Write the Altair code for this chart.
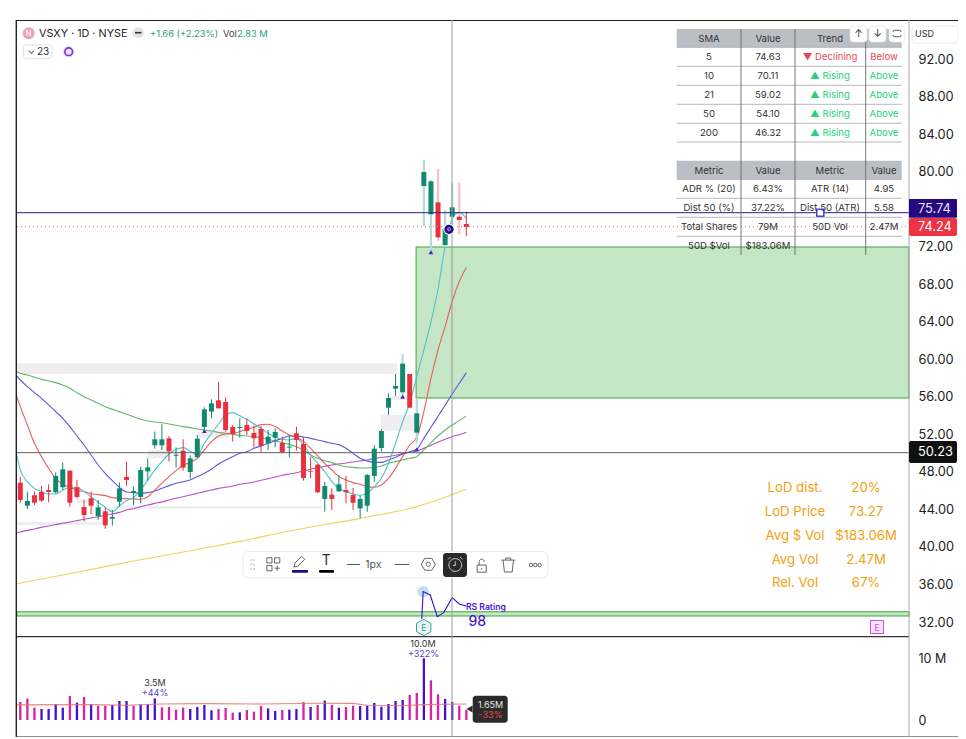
import altair as alt
import pandas as pd

FONT = "Inter"

# ---------- candles ----------
candle_side = "rgrrrggrrr" "rgrggrgggg" "grgrggggrr" "rgrrrggrgr" "rrrgrgrrgg" "gggggrgggr" "ggrr"
candle_high = [47.50,45.90,45.90,46.50,46.68,47.96,49.02,48.14,47.14,45.01,
               45.90,45.01,44.23,43.94,46.89,49.10,46.43,48.56,49.45,52.29,
               53.08,51.83,50.62,51.48,49.77,51.94,54.89,55.74,57.62,55.95,
               53.00,53.72,53.72,52.90,52.90,52.47,52.65,51.76,51.94,52.83,
               51.69,49.63,48.81,46.96,46.25,47.67,47.57,46.32,45.47,47.78,
               50.87,52.54,56.38,58.44,60.57,58.44,55.85,81.25,79.12,80.29,
               75.92,78.77,78.84,75.75]
candle_top = [46.86,44.90,45.51,45.86,46.07,47.57,48.28,48.14,46.36,44.26,
              45.19,44.23,43.80,43.20,46.25,47.46,45.97,48.21,48.49,51.48,
              51.48,51.58,49.84,50.27,49.45,51.55,54.67,55.31,55.63,55.46,
              52.79,52.79,53.00,52.15,52.58,51.76,52.26,51.09,50.69,52.12,
              50.98,48.10,48.78,46.50,45.58,46.68,46.07,45.54,45.12,47.67,
              50.48,52.36,55.88,57.16,59.54,58.44,54.25,79.97,78.98,76.74,
              73.97,76.21,75.21,74.43]
candle_bottom = [45.01,44.40,44.72,44.94,45.86,45.83,46.36,44.72,45.33,43.41,
                 44.40,43.30,42.31,43.02,44.83,47.14,45.79,45.33,48.06,50.84,
                 50.84,50.20,49.73,48.46,47.99,49.56,52.79,54.43,54.78,52.47,
                 52.04,52.68,52.36,51.58,50.77,51.05,51.65,50.13,50.59,51.41,
                 47.35,48.03,45.83,45.12,45.12,45.93,45.83,44.72,44.12,44.40,
                 47.57,50.55,54.85,56.88,56.49,54.85,52.19,78.48,75.46,73.01,
                 72.19,75.21,74.86,74.11]
candle_low = [44.72,44.01,44.48,44.83,44.76,45.72,46.07,44.30,45.19,42.70,
              43.52,42.88,41.92,42.27,44.30,46.50,44.48,44.65,47.07,50.48,
              50.34,49.10,48.46,48.14,47.28,49.52,52.54,53.72,54.78,52.29,
              51.23,51.65,51.94,50.59,50.09,50.34,50.62,49.98,49.56,50.27,
              47.07,47.32,45.72,43.76,43.94,45.90,44.65,43.94,43.05,43.76,
              46.96,50.16,54.07,56.10,56.02,54.78,51.05,74.22,71.30,72.65,
              72.01,74.15,73.33,73.15]

# ---------- moving averages (first value sits one bar before the first candle) ----------
ma_cyan = [51.76,48.21,46.96,46.25,45.90,45.65,45.65,46.07,46.36,46.36,45.90,45.36,44.76,44.23,43.76,
           44.37,44.94,45.29,46.07,47.14,48.21,49.10,49.91,50.41,50.59,50.23,49.81,51.05,52.12,53.11,
           54.07,54.32,54.00,53.61,53.11,52.65,52.12,51.69,51.48,51.41,51.58,50.87,49.81,48.92,48.03,
           46.96,46.25,45.90,45.65,45.51,45.72,46.43,47.32,48.92,51.05,53.36,55.31,58.16,61.0,64.0,
           67.5,72.0,75.0,75.7,75.0]
ma_red = [57.09,54.96,53.00,51.05,49.63,48.38,47.32,46.68,46.36,46.07,45.90,45.68,45.58,45.47,45.26,
          45.19,45.15,45.12,45.08,45.36,46.07,46.79,47.50,48.14,48.74,48.99,49.45,50.34,51.23,51.83,
          52.04,52.12,52.29,52.54,52.76,53.04,53.08,52.83,52.36,51.94,51.69,51.23,50.52,49.70,48.92,
          48.21,47.50,47.14,46.86,46.68,46.43,46.36,46.61,47.32,48.38,49.63,50.87,51.69,54.43,57.98,
          61.0,63.5,66.2,68.3,69.8]
ma_blue = [58.65,57.80,57.09,56.45,55.85,55.14,54.43,53.72,52.83,51.83,50.87,49.81,48.74,47.85,47.07,
           46.36,45.86,45.79,45.72,45.79,45.97,46.25,46.54,46.79,46.96,47.14,47.50,47.85,48.28,48.85,
           49.27,49.63,49.98,50.16,50.52,50.77,51.05,51.33,51.58,51.83,51.83,51.72,51.58,51.41,51.23,
           51.05,50.91,50.52,49.98,49.45,49.17,49.02,49.02,49.27,49.56,49.91,50.16,50.41,51.58,52.76,
           53.93,55.10,56.31,57.45,58.58]
ma_green = [58.87,58.51,58.33,58.09,57.87,57.70,57.52,57.27,56.91,56.45,56.02,55.67,55.31,54.96,54.67,
            54.43,54.14,53.89,53.61,53.43,53.32,53.25,53.11,52.97,52.83,52.72,52.58,52.47,52.36,52.22,
            52.12,52.01,51.90,51.83,51.76,51.65,51.48,51.30,51.12,50.94,50.69,50.34,49.81,49.45,49.20,
            48.99,48.74,48.56,48.49,48.42,48.42,48.49,48.63,48.92,49.10,49.27,49.45,49.63,50.34,51.12,
            51.83,52.47,53.00,53.47,53.96]
ma_purple = [41.45,41.60,41.77,41.92,42.09,42.24,42.38,42.52,42.66,42.81,42.95,43.09,43.23,43.37,43.52,
             43.69,43.94,44.08,44.30,44.48,44.65,44.80,45.01,45.19,45.36,45.54,45.72,45.90,46.07,46.25,
             46.36,46.50,46.68,46.79,46.93,47.11,47.28,47.46,47.64,47.78,47.92,48.10,48.28,48.46,48.60,
             48.74,48.85,48.95,49.06,49.17,49.27,49.42,49.56,49.63,49.77,49.95,50.09,50.23,50.52,50.84,
             51.16,51.48,51.76,51.97,52.22]
ma_yellow_bar = [-1, 8, 16, 24, 31, 38, 48, 56, 60, 63]
ma_yellow = [36.0, 37.3, 38.5, 39.6, 40.6, 41.7, 43.05, 44.3, 45.3, 46.15]

# ---------- volume (millions) ----------
volume_side = "pppbbbbpbp" "bppbbbpbbb" "ppppbbbbpp" "pbpppbbpbb" "pbpbpbppbb" "bbbbbppbpp" "bbpp"
volume = [2.92,3.46,2.00,1.78,1.78,2.59,2.00,3.89,2.81,3.73,
          2.59,2.32,2.32,2.43,3.08,3.08,2.32,2.54,2.59,3.50,
          2.05,2.11,1.68,2.00,1.78,2.11,2.43,1.57,1.78,1.95,
          1.19,1.24,1.62,1.35,2.27,1.89,1.46,1.62,1.68,1.78,
          2.92,2.11,2.43,3.14,2.43,2.00,2.11,2.32,2.27,2.32,
          2.76,2.16,2.59,3.08,3.24,4.05,4.38,10.0,6.43,4.16,
          3.41,2.92,2.32,1.65]
vol_ma_bar = [-1, 10, 15, 20, 26, 34, 42, 47, 49, 54, 57, 60, 63]
vol_ma = [2.45, 2.5, 2.4, 2.6, 2.65, 2.6, 2.72, 2.7, 2.38, 2.3, 2.5, 2.55, 2.6]

# ---------- other chart drawings ----------
grey_zones = [(-0.47, 53.2, 59.56, 58.44), (-0.47, 11.7, 42.66, 42.34), (8, 10, 45.08, 44.72),
              (13, 42.6, 44.37, 44.08), (18, 21, 50.34, 49.45), (25, 29.5, 52.29, 51.65),
              (50.9, 56, 54.07, 52.40), (52, 55.3, 56.10, 55.67)]
green_zone = (55.9, 125.52, 71.98, 55.88)
green_band = (-0.47, 125.52, 33.1, 32.64)
up_marks = [(26, 52.36), (54, 56.03), (56, 50.41), (58, 71.41)]
rs_bar = [56.7, 56.9, 57.9, 58.9, 59.8, 61.0, 62.0, 63.0]
rs_line = [32.32, 35.24, 34.88, 32.57, 33.0, 34.6, 33.92, 33.7]

# ---------- table text ----------
sma_rows = [("5", "74.63", "▼ Declining", "Below"), ("10", "70.11", "▲ Rising", "Above"),
            ("21", "59.02", "▲ Rising", "Above"), ("50", "54.10", "▲ Rising", "Above"),
            ("200", "46.32", "▲ Rising", "Above")]
metric_rows = [("ADR % (20)", "6.43%", "ATR (14)", "4.95"), ("Dist 50 (%)", "37.22%", "Dist 50 (ATR)", "5.58"),
               ("Total Shares", "79M", "50D Vol", "2.47M"), ("50D $Vol", "$183.06M", "", "")]
info_rows = [("LoD dist.", "20%"), ("LoD Price", "73.27"), ("Avg $ Vol", "$183.06M"),
             ("Avg Vol", "2.47M"), ("Rel. Vol", "67%")]
price_ticks = [92, 88, 84, 80, 72, 68, 64, 60, 56, 52, 48, 44, 40, 36, 32]

# ---------- scales ----------
XS = alt.Scale(domain=[-0.466, 125.52], nice=False, zero=False, padding=0)
PS = alt.Scale(domain=[19.74, 96.18], nice=False, zero=False, padding=0)
VS = alt.Scale(domain=[-2.755, 113.45], nice=False, zero=False, padding=0)
X0, Y0 = 17, 20
GREEN, RED = "#12896f", "#e8303f"
INDIGO = "#4a14d0"


def bx(f="i"):
    return alt.X(f"{f}:Q", scale=XS, axis=None, title=None)


def py(f="p", scale=PS):
    return alt.Y(f"{f}:Q", scale=scale, axis=None, title=None)


def pxx(f="x"):
    return alt.X(f"{f}:Q", scale=None, axis=None, title=None)


def pxy(f="y"):
    return alt.Y(f"{f}:Q", scale=None, axis=None, title=None)


def text_layer(rows, align="center", weight="normal"):
    df = pd.DataFrame(rows, columns=["t", "x", "y", "s", "c"])
    df["x"] -= X0
    df["y"] -= Y0
    return alt.Chart(df).mark_text(align=align, baseline="middle", font=FONT, fontWeight=weight).encode(
        x=pxx(), y=pxy(), text="t:N",
        size=alt.Size("s:Q", scale=None, legend=None),
        color=alt.Color("c:N", scale=None, legend=None))


def rect_layer(rows, **kw):
    df = pd.DataFrame(rows, columns=["x", "x2", "y", "y2", "c"])
    df[["x", "x2"]] -= X0
    df[["y", "y2"]] -= Y0
    return alt.Chart(df).mark_rect(**kw).encode(
        x=pxx(), x2="x2:Q", y=pxy(), y2="y2:Q",
        color=alt.Color("c:N", scale=None, legend=None))


def hlines(rows, **kw):
    df = pd.DataFrame(rows, columns=["x", "x2", "y", "c"])
    df[["x", "x2"]] -= X0
    df["y"] -= Y0
    return alt.Chart(df).mark_rule(**kw).encode(
        x=pxx(), x2="x2:Q", y=pxy(), color=alt.Color("c:N", scale=None, legend=None))


def vlines(rows, **kw):
    df = pd.DataFrame(rows, columns=["x", "y", "y2", "c"])
    df["x"] -= X0
    df[["y", "y2"]] -= Y0
    return alt.Chart(df).mark_rule(**kw).encode(
        x=pxx(), y=pxy(), y2="y2:Q", color=alt.Color("c:N", scale=None, legend=None))


def icons(rows, filled=False, **kw):
    df = pd.DataFrame(rows, columns=["x", "y", "size", "c", "shape"])
    df["x"] -= X0
    df["y"] -= Y0
    return alt.Chart(df).mark_point(filled=filled, opacity=1, **kw).encode(
        x=pxx(), y=pxy(),
        size=alt.Size("size:Q", scale=None, legend=None),
        color=alt.Color("c:N", scale=None, legend=None),
        shape=alt.Shape("shape:N", scale=None, legend=None))


layers = []

# price zones
gz = pd.DataFrame(grey_zones, columns=["i", "i2", "p", "p2"])
layers.append(alt.Chart(gz).mark_rect(color="#eeeef0").encode(x=bx(), x2="i2:Q", y=py(), y2="p2:Q"))
gzone = pd.DataFrame([green_zone], columns=["i", "i2", "p", "p2"])
layers.append(alt.Chart(gzone).mark_rect(color="#c5e6c5", stroke="#3fa33f", strokeWidth=1).encode(
    x=bx(), x2="i2:Q",
    y=alt.Y("p:Q", scale=PS, title=None, axis=alt.Axis(
        orient="right", values=price_ticks, format=".2f", grid=False, ticks=False, domain=False,
        labelFontSize=12.8, labelFont=FONT, labelColor="#222", labelPadding=9, labelAlign="left")),
    y2="p2:Q"))
gband = pd.DataFrame([green_band], columns=["i", "i2", "p", "p2"])
layers.append(alt.Chart(gband).mark_rect(color="#c5e6c5", stroke="#3fa33f", strokeWidth=1.1).encode(
    x=bx(), x2="i2:Q", y=py(), y2="p2:Q"))

# moving averages
bars_all = list(range(-1, 64))
for vals, col in [(ma_yellow, "#efd25e"), (ma_purple, "#b352c9"), (ma_green, "#66b46c"),
                  (ma_blue, "#5b57df"), (ma_red, "#e8605c"), (ma_cyan, "#4fc4c8")]:
    idx = ma_yellow_bar if vals is ma_yellow else bars_all
    d = pd.DataFrame({"i": idx, "p": vals})
    layers.append(alt.Chart(d).mark_line(color=col, strokeWidth=1.1, clip=True, interpolate="monotone").encode(
        x=bx(), y=py()))

# candles
c = pd.DataFrame({"i": range(64), "h": candle_high, "l": candle_low, "t": candle_top, "b": candle_bottom,
                  "s": list(candle_side)})
c["body"] = c["s"].map({"g": GREEN, "r": RED})
pale = c["i"].between(54, 62)
c["wick"] = c["body"]
c.loc[pale & (c["s"] == "g"), "wick"] = "#b4dcd2"
c.loc[pale & (c["s"] == "r"), "wick"] = "#f6c0c6"
cthin, cpale = c[~pale], c[pale]
layers.append(alt.Chart(cthin).mark_rule(strokeWidth=1).encode(
    x=bx(), y=py("h"), y2="l:Q", color=alt.Color("wick:N", scale=None, legend=None)))
layers.append(alt.Chart(cpale).mark_rule(strokeWidth=2.2).encode(
    x=bx(), y=py("h"), y2="l:Q", color=alt.Color("wick:N", scale=None, legend=None)))
layers.append(alt.Chart(c).mark_bar(size=5).encode(
    x=bx(), y=py("t"), y2="b:Q", color=alt.Color("body:N", scale=None, legend=None)))

# price lines
layers.append(hlines([(17, 909, 212.7, "#2a1a8c")], strokeWidth=1))
layers.append(hlines([(17, 909, 226.7, "#e06a6a")], strokeWidth=1, strokeDash=[1, 3]))
layers.append(hlines([(17, 909, 452.7, "#5f5f5f")], strokeWidth=1))

# triangles and markers
um = pd.DataFrame(up_marks, columns=["i", "p"])
layers.append(alt.Chart(um).mark_point(shape="triangle-up", filled=True, size=22, color="#3b2ad6", opacity=1).encode(
    x=bx(), y=py()))

# RS rating sparkline
rs = pd.DataFrame({"i": rs_bar, "p": rs_line})
layers.append(alt.Chart(rs.iloc[[1]]).mark_point(filled=True, size=130, color="#c2dff2", opacity=1).encode(x=bx(), y=py()))
layers.append(alt.Chart(rs).mark_line(color="#3a10d8", strokeWidth=1.1).encode(x=bx(), y=py()))

# volume
v = pd.DataFrame({"i": range(64), "v": volume, "s": list(volume_side)})
v["c"] = v["s"].map({"b": "#4512cc", "p": "#d9229f"})
layers.append(alt.Chart(v).mark_bar(size=2.3).encode(
    x=bx(),
    y=alt.Y("v:Q", scale=VS, title=None, axis=alt.Axis(
        orient="right", values=[0, 10], labelExpr="datum.value == 10 ? '10 M' : '0'", grid=False, ticks=False,
        domain=False, labelFontSize=12.5, labelFont=FONT, labelColor="#222", labelPadding=9, labelAlign="left")),
    y2=alt.Y2(datum=0),
    color=alt.Color("c:N", scale=None, legend=None)))
vm = pd.DataFrame({"i": vol_ma_bar, "v": vol_ma})
layers.append(alt.Chart(vm).mark_line(color="#e8706c", strokeWidth=1.1, clip=True, opacity=0.85).encode(
    x=bx(), y=py("v", VS)))

# frame and crosshair
layers.append(hlines([(16, 958, 20.5, "#222222"), (16, 909, 636.7, "#333333"), (16, 958, 737, "#222222")], strokeWidth=1.2))
layers.append(vlines([(16.3, 20, 737, "#222222")], strokeWidth=1.4))
layers.append(vlines([(909, 20, 737, "#a8a8a8")], strokeWidth=1))
layers.append(vlines([(452, 20, 737, "#9a9a9a")], strokeWidth=1.4, opacity=0.7))

# alarm marker on the chart
layers.append(icons([(449, 229.3, 130, "#ffffff", "circle")], filled=True))
layers.append(icons([(449, 229.3, 85, "#1f0a8a", "circle")], filled=True))
layers.append(icons([(449, 229.3, 16, "#cfc8f5",
                      "M.8,0 A.8,.8 0 1,1 -.8,0 A.8,.8 0 1,1 .8,0 M0,-.4 V.1 H-.3")], strokeWidth=0.8))
layers.append(icons([(820.3, 212.7, 50, "#4030d8", "square")], filled=False, strokeWidth=1.4, fill="#ffffff"))

# table backgrounds and rules
layers.append(rect_layer([(676.7, 901.7, 29, 47.3, "#bcbec5"), (676.7, 901.7, 160.7, 179.3, "#bcbec5")]))
tbl_h = [47.3, 66.3, 85.3, 104.3, 123.3, 142, 179.3, 198.3, 217.3, 236.3]
layers.append(hlines([(676.7, 901.7, y, "#b0b0b4") for y in tbl_h], strokeWidth=0.9))
layers.append(vlines([(x, 29, 255, "#6a6a6e") for x in (741, 795, 865.7)], strokeWidth=0.9))

cols = [709, 768, 830, 884]
TXT = "#333333"
TS = 9.6
t_rows = []
for x, label in zip(cols[:3], ["SMA", "Value", "Trend"]):
    t_rows.append((label, x, 38.5, TS, TXT))
for x, label in zip(cols, ["Metric", "Value", "Metric", "Value"]):
    t_rows.append((label, x, 170.5, TS, TXT))
for r, row in enumerate(sma_rows):
    y = 57.3 + 19 * r
    up = row[2].startswith("▲")
    t_rows.append((row[0], cols[0], y, TS, TXT))
    t_rows.append((row[1], cols[1], y, TS, TXT))
    t_rows.append((row[2], cols[2], y, TS, "#27d17f" if up else "#e8485a"))
    t_rows.append((row[3], cols[3], y, TS, "#27d17f" if up else "#e8485a"))
for r, row in enumerate(metric_rows):
    y = 189.3 + 19 * r
    for x, t in zip(cols, row):
        if t:
            t_rows.append((t, x, y, TS, TXT))
layers.append(text_layer(t_rows))

# table top-right buttons, currency box
layers.append(rect_layer([(850, 867, 26, 42, "#ffffff"), (869, 886, 26, 42, "#ffffff"), (889, 905, 26, 42, "#ffffff")],
                         cornerRadius=3, stroke="#e6e6e6", strokeWidth=0.8))
layers.append(rect_layer([(912, 958, 26, 43, "#ffffff")], cornerRadius=3, stroke="#e6e6e6", strokeWidth=0.8))
layers.append(text_layer([("↑", 858.5, 33.5, 10.5, "#333"), ("↓", 877.5, 33.5, 10.5, "#333")]))
layers.append(icons([(897, 33.5, 64, "#444444", "M-1,-.4 Q-1,-.8 -.6,-.8 H.6 Q1,-.8 1,-.4 M-1,.4 Q-1,.8 -.6,.8 H.6 Q1,.8 1,.4")], strokeWidth=0.9))
layers.append(text_layer([("USD", 915, 34, 9, "#333")], align="left"))

# last price tags
layers.append(rect_layer([(909, 957, 199, 217.7, "#26087f")], cornerRadius=1))
layers.append(rect_layer([(909, 957, 218, 236, "#ee3344")], cornerRadius=2))
layers.append(rect_layer([(909, 957, 441, 463, "#111111")], cornerRadius=2))
layers.append(text_layer([("75.74", 918, 208.5, 12.8, "#e6e6f5"), ("74.24", 918, 227, 12.8, "#ffffff"),
                          ("50.23", 918, 452, 12.8, "#ffffff")], align="left"))

# header
layers.append(icons([(28.7, 33.3, 144, "#eba2c2", "circle"), (138.3, 32.7, 121, "#e2e2e2", "circle"),
                     (68.7, 51.7, 140, "#efe4fb", "circle")], filled=True))
layers.append(icons([(68.7, 51.7, 60, "#7b2fd6", "circle")], strokeWidth=1.6))
layers.append(hlines([(135, 141.5, 32.7, "#333333")], strokeWidth=1.6))
layers.append(rect_layer([(23.7, 52, 45, 58.3, "#ffffff")], cornerRadius=2, stroke="#d8d8d8", strokeWidth=0.8))
layers.append(text_layer([("VSXY · 1D · NYSE", 39, 33.5, 10.8, "#222"),
                          ("+1.66 (+2.23%)", 150, 33.5, 9.3, "#1f9e86"),
                          ("Vol", 223, 33.5, 9.3, "#444"), ("2.83 M", 237, 33.5, 9.3, "#1f9e86"),
                          ("⌄", 27.5, 50.5, 10, "#444"), ("23", 37, 52, 10, "#333")], align="left"))
layers.append(text_layer([("N", 28.7, 33.5, 7.5, "#ffffff")]))

# volume annotations
layers.append(rect_layer([(472.7, 507.7, 695.7, 722.7, "#2b2b2b")], cornerRadius=3))
layers.append(icons([(469.5, 709, 50, "#2b2b2b", "triangle-left")], filled=True))
layers.append(text_layer([("3.5M", 155, 683, 9, "#333"), ("+44%", 155, 692.7, 9, "#5a3fd6"),
                          ("10.0M", 423, 644, 9, "#333"), ("+322%", 423.5, 653.5, 9, "#5a3fd6"),
                          ("1.65M", 490.5, 704.5, 9, "#e8e8e8"), ("-33%", 490.5, 714.5, 9, "#e5484d")]))

# toolbar
layers.append(rect_layer([(243, 548, 551.5, 578, "#ffffff")], cornerRadius=6, stroke="#e9e9ec", strokeWidth=1))
layers.append(rect_layer([(443, 467, 553, 577, "#2a2a2a")], cornerRadius=3))
layers.append(rect_layer([(292, 308, 570, 572.7, "#1f0a8a"), (319, 334, 570, 572.7, "#000000")], cornerRadius=1))
layers.append(icons([(x, y, 4, "#cfcfd4", "circle") for x in (251, 254) for y in (560, 564.5, 569)], filled=True))
layers.append(icons([
    (273.3, 564.3, 169, "#555555", "M-1,-1H-.2V-.2H-1Z M.2,-1H1V-.2H.2Z M-1,.2H-.2V1H-1Z M.6,.2V1 M.2,.6H1"),
    (299.3, 561.7, 144, "#555555", "M-.9,.9 L-.7,.2 L.4,-.9 L.9,-.4 L-.2,.7 Z"),
    (428.3, 564.3, 196, "#555555", "M-1,0 L-.5,-.85 L.5,-.85 L1,0 L.5,.85 L-.5,.85 Z M.3,0 A.3,.3 0 1,1 -.3,0 A.3,.3 0 1,1 .3,0"),
    (455.3, 565, 256, "#dddddd", "M.8,0 A.8,.8 0 1,1 -.8,0 A.8,.8 0 1,1 .8,0 M0,-.45 V.05 H-.3 M-.9,-.7 L-.6,-1 M.9,-.7 L.6,-1"),
    (481.7, 565.7, 169, "#555555", "M-.7,-.1 H.7 V1 H-.7 Z M-.4,-.1 V-.6 A.4,.4 0 0 1 .4,-.6 M0,.35 V.6"),
    (508.3, 565, 196, "#555555", "M-1,-.7 H1 M-.35,-.7 V-1 H.35 V-.7 M-.75,-.7 L-.55,1 H.55 L.75,-.7"),
    (531, 565, 12, "#555555", "circle"), (535.3, 565, 12, "#555555", "circle"), (539.6, 565, 12, "#555555", "circle"),
], strokeWidth=0.9))
layers.append(hlines([(347.3, 360, 564.5, "#555555"), (395, 409, 564.5, "#555555")], strokeWidth=1))
layers.append(text_layer([("T", 326.3, 561, 14, "#333"), ("1px", 373.3, 565, 10.5, "#555")]))

# RS rating text
layers.append(text_layer([("RS Rating", 466, 606.5, 8.6, "#4a14d0")], align="left", weight=600))
layers.append(text_layer([("98", 468.5, 621.5, 14, "#4a14d0")], align="left", weight=500))

# earnings badges
layers.append(icons([(423.7, 627.5, 270, "#e9f6f3", "M0,-1 L.87,-.5 L.87,.5 L0,1 L-.87,.5 L-.87,-.5 Z"),
                     (877, 627, 169, "#f9e3fa", "square")], filled=True))
layers.append(icons([(423.7, 627.5, 270, "#2aa198", "M0,-1 L.87,-.5 L.87,.5 L0,1 L-.87,.5 L-.87,-.5 Z"),
                     (877, 627, 169, "#cf4fd6", "square")], strokeWidth=1))
layers.append(text_layer([("E", 423.7, 628, 8.5, "#2aa198"), ("E", 877, 627.5, 8.5, "#cf4fd6")]))

# orange summary
ORANGE = "#f2a010"
info_y = [488, 512, 536, 560, 583]
info = []
for y, (a, b) in zip(info_y, info_rows):
    info.append((a, 795, y, 13.2, ORANGE))
    info.append((b, 866, y, 13.2, ORANGE))
layers.append(text_layer(info))

chart = alt.layer(*layers).resolve_scale(y="independent").properties(
    width=892, height=717,
    padding={"left": 9, "top": 12, "right": 49, "bottom": 0},
    autosize=alt.AutoSizeParams(type="none"),
    background="white",
).configure_view(stroke=None)

chart.save("out.html", embed_options={"renderer": "svg", "actions": False})
